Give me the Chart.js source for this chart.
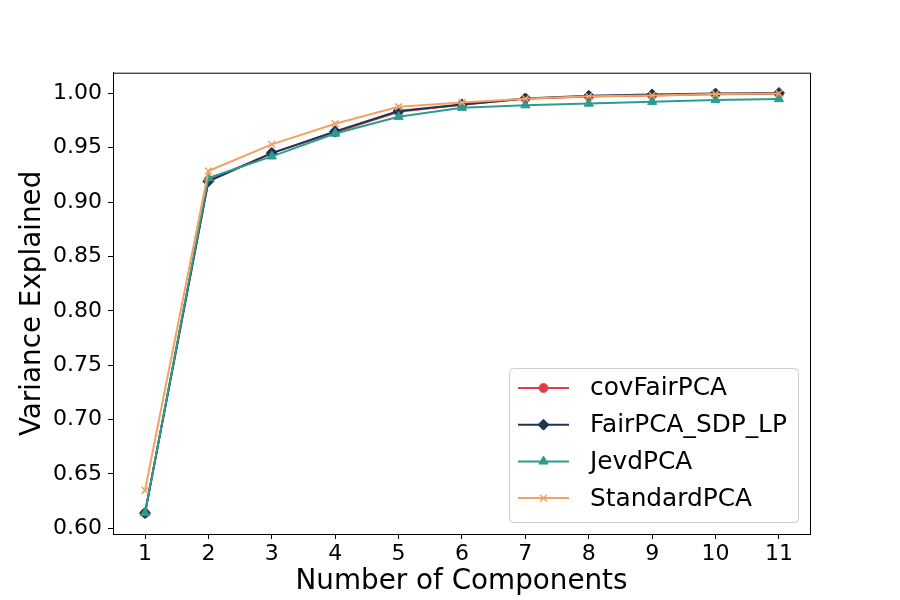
<!DOCTYPE html>
<html lang="en">
  <head>
    <meta charset="UTF-8" />
    <title>Variance Explained</title>
    <script src="https://cdn.jsdelivr.net/npm/chart.js"></script>
    <style>
      body { margin: 0; background: #fff; }
    </style>
  </head>
  <body>
    <canvas id="varChart" width="900" height="600"></canvas>
    <script>
      // data
      const components = [1, 2, 3, 4, 5, 6, 7, 8, 9, 10, 11];
      const yTicks = [0.6, 0.65, 0.7, 0.75, 0.8, 0.85, 0.9, 0.95, 1.0];
      const covFairPCA = [0.614, 0.920, 0.945, 0.964, 0.983, 0.9895, 0.995, 0.997, 0.998, 0.999, 0.9995];
      const fairPCA_SDP_LP = [0.614, 0.919, 0.945, 0.965, 0.9836, 0.9897, 0.9952, 0.9977, 0.9989, 0.9997, 1.0003];
      const jevdPCA = [0.614, 0.922, 0.942, 0.963, 0.9784, 0.9867, 0.989, 0.9906, 0.9922, 0.9938, 0.9947];
      const standardPCA = [0.635, 0.9285, 0.953, 0.972, 0.9876, 0.9916, 0.995, 0.9972, 0.998, 0.9993, 0.9998];

      const FONT = "'DejaVu Sans', sans-serif";

      function toXY(arr) {
        return arr.map((v, i) => ({ x: components[i], y: v }));
      }

      const series = [
        { label: "covFairPCA", data: covFairPCA, color: "#e63946", style: "circle", r: 4.4, order: 4 },
        { label: "FairPCA_SDP_LP", data: fairPCA_SDP_LP, color: "#1d3557", style: "rectRot", r: 5.5, order: 3 },
        { label: "JevdPCA", data: jevdPCA, color: "#2a9d8f", style: "triangle", r: 5.3, order: 2 },
        { label: "StandardPCA", data: standardPCA, color: "#f4a261", style: "crossRot", r: 4.8, order: 1 },
      ];

      // legend + frame drawn inside the plot area
      const framePlugin = {
        id: "frameLegend",
        afterDraw(chart) {
          const ctx = chart.ctx;
          const a = chart.chartArea;
          ctx.save();
          ctx.strokeStyle = "#000";
          ctx.lineWidth = 1;
          ctx.strokeRect(a.left + 0.5, a.top + 0.5, a.right - a.left, a.bottom - a.top);

          // legend box
          const bx = 509, by = 368, bw = 289, bh = 154;
          ctx.fillStyle = "rgba(255,255,255,0.8)";
          ctx.strokeStyle = "#cccccc";
          ctx.beginPath();
          ctx.roundRect(bx + 0.5, by + 0.5, bw, bh, 4);
          ctx.fill();
          ctx.stroke();

          ctx.font = "24.8px " + FONT;
          ctx.textBaseline = "middle";
          series.forEach((s, i) => {
            const cy = by + 20 + i * 36.7;
            ctx.strokeStyle = s.color;
            ctx.lineWidth = 2;
            ctx.beginPath();
            ctx.moveTo(518, cy);
            ctx.lineTo(569, cy);
            ctx.stroke();
            ctx.fillStyle = s.color;
            ctx.strokeStyle = s.color;
            ctx.lineWidth = s.style === "crossRot" ? 1.5 : 1;
            Chart.helpers.drawPoint(ctx, { pointStyle: s.style, radius: s.r, rotation: 0, borderWidth: ctx.lineWidth }, 543.5, cy);
            ctx.fillStyle = "#000";
            ctx.fillText(s.label, 590, cy + 1);
          });
          ctx.restore();
        },
      };

      const ctxVar = document.getElementById("varChart").getContext("2d");
      const varChart = new Chart(ctxVar, {
        type: "line",
        data: {
          datasets: series.map((s) => ({
            label: s.label,
            data: toXY(s.data),
            borderColor: s.color,
            backgroundColor: s.color,
            pointBackgroundColor: s.color,
            pointBorderColor: s.color,
            pointStyle: s.style,
            pointRadius: s.r,
            pointBorderWidth: s.style === "crossRot" ? 1.5 : 1,
            borderWidth: 2,
            tension: 0,
            fill: false,
            order: s.order,
          })),
        },
        options: {
          responsive: false,
          animation: false,
          devicePixelRatio: 1,
          layout: { padding: { top: 72.7, right: 90, left: 0, bottom: 0 } },
          plugins: { legend: { display: false }, tooltip: { enabled: false } },
          scales: {
            x: {
              type: "linear",
              min: 0.495,
              max: 11.49,
              afterBuildTicks: (axis) => { axis.ticks = components.map((v) => ({ value: v })); },
              afterFit: (axis) => { axis.height = 66; },
              grid: { drawOnChartArea: false, tickLength: 5, tickColor: "#000", color: "#000" },
              border: { color: "#000", width: 1 },
              ticks: { color: "#000", font: { family: FONT, size: 22 }, padding: 2, maxRotation: 0 },
              title: {
                display: true,
                text: "Number of Components",
                color: "#000",
                font: { family: FONT, size: 27.8, lineHeight: 1.2 },
                padding: { top: 0, bottom: 2 },
              },
            },
            y: {
              type: "linear",
              min: 0.5948,
              max: 1.0189,
              afterBuildTicks: (axis) => { axis.ticks = yTicks.map((v) => ({ value: v })); },
              afterFit: (axis) => { axis.width = 113; },
              grid: { drawOnChartArea: false, tickLength: 5, tickColor: "#000", color: "#000" },
              border: { color: "#000", width: 1 },
              ticks: {
                color: "#000",
                font: { family: FONT, size: 22 },
                padding: 6,
                callback: (v) => v.toFixed(2),
              },
              title: {
                display: true,
                text: "Variance Explained",
                color: "#000",
                font: { family: FONT, size: 27.8, lineHeight: 1.2 },
                padding: { top: 16, bottom: 0 },
              },
            },
          },
        },
        plugins: [framePlugin],
      });
    </script>
  </body>
</html>
